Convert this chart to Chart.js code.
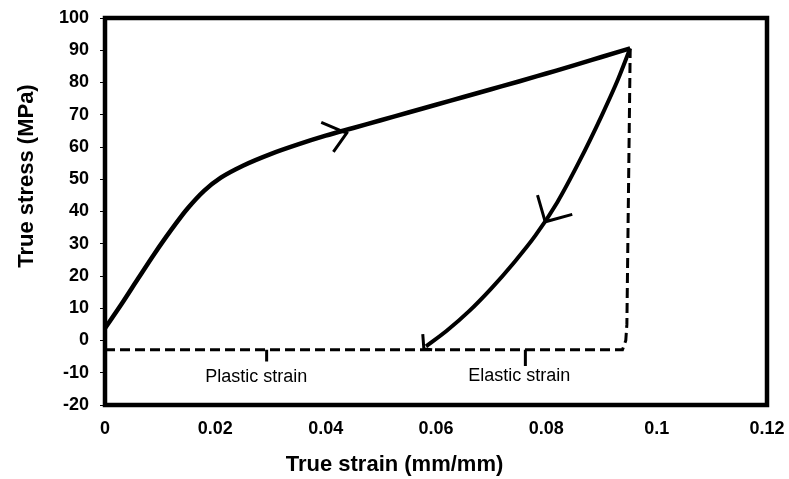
<!DOCTYPE html>
<html>
<head>
<meta charset="utf-8">
<style>html,body{margin:0;padding:0;background:#fff}canvas{display:block}</style>
<script src="https://cdn.jsdelivr.net/npm/chart.js@4.4.0/dist/chart.umd.min.js"></script>
</head>
<body>
<canvas id="c" width="789" height="479"></canvas>
<script>
// ---- data ----
const xTickLabels = ['0', '0.02', '0.04', '0.06', '0.08', '0.1', '0.12'];
const yTickLabels = ['-20', '-10', '0', '10', '20', '30', '40', '50', '60', '70', '80', '90', '100'];

const loadingStrain = [0, 0.003, 0.006, 0.009, 0.012, 0.015, 0.018, 0.021, 0.025, 0.03, 0.035, 0.04, 0.045, 0.05, 0.055, 0.06, 0.065, 0.07, 0.075, 0.08, 0.085, 0.09, 0.0952];
const loadingStress = [3.8, 11.3, 19.2, 27, 34.3, 41, 46.5, 50.5, 54.2, 57.8, 60.8, 63.5, 65.9, 68.3, 70.7, 73.1, 75.5, 77.9, 80.3, 82.8, 85.3, 87.9, 90.6];

const unloadStrain = [0.0582, 0.062, 0.066, 0.070, 0.074, 0.078, 0.082, 0.086, 0.090, 0.093, 0.0952];
const unloadStress = [-1.8, 3.1, 9.1, 16.1, 23.9, 32.5, 42.9, 55.6, 69.6, 81, 90.6];

const dashStrain = [0, 0.0938, 0.0944, 0.0946, 0.0952];
const dashStress = [-2.9, -2.9, 0, 5, 90];

const arrow1Strain = [0.0392, 0.0438, 0.0414];
const arrow1Stress = [67.6, 64.3, 58.5];
const arrow2Strain = [0.0784, 0.0798, 0.0847];
const arrow2Stress = [45.1, 36.8, 39.1];
const arrowEndStrain = [0.0576, 0.0578, 0.0593];
const arrowEndStress = [2.0, -2.6, -2.9];

const plasticPtrStrain = [0.0293, 0.0293];
const plasticPtrStress = [-2.9, -6.5];
const elasticPtrStrain = [0.0762, 0.0762];
const elasticPtrStress = [-2.9, -7.9];

const annotationTexts = ['Plastic strain', 'Elastic strain'];
const annotationStrain = [0.0274, 0.0751];
const annotationStress = [-11.3, -10.9];

const xTitle = 'True strain (mm/mm)';
const yTitle = 'True stress (MPa)';

// ---- build ----
const pts = (xs, ys) => xs.map((x, i) => ({x: x, y: ys[i]}));
function ds(xs, ys, width, extra) {
  return Object.assign({
    data: pts(xs, ys), showLine: true, borderColor: '#000', backgroundColor: '#000',
    borderWidth: width, pointRadius: 0, fill: false, tension: 0, borderCapStyle: 'butt'
  }, extra || {});
}

const FONT = '"Liberation Sans", Arial, sans-serif';

const framePlugin = {
  id: 'frame',
  afterDatasetsDraw(chart) {
    const a = chart.chartArea, ctx = chart.ctx;
    ctx.save();
    ctx.strokeStyle = '#000';
    ctx.lineWidth = 4.5;
    ctx.strokeRect(a.left, a.top, a.right - a.left, a.bottom - a.top);
    ctx.restore();
  },
  afterDraw(chart) {
    const ctx = chart.ctx, xs = chart.scales.x, ys = chart.scales.y;
    ctx.save();
    ctx.fillStyle = '#000';
    ctx.textAlign = 'center';
    ctx.textBaseline = 'middle';
    ctx.font = '18px ' + FONT;
    annotationTexts.forEach((t, i) => {
      ctx.fillText(t, xs.getPixelForValue(annotationStrain[i]), ys.getPixelForValue(annotationStress[i]));
    });
    ctx.font = 'bold 22px ' + FONT;
    ctx.fillText(xTitle, chart.width / 2, 465);
    ctx.translate(27, 176);
    ctx.rotate(-Math.PI / 2);
    ctx.fillText(yTitle, 0, 0);
    ctx.restore();
  }
};

new Chart(document.getElementById('c'), {
  type: 'scatter',
  data: {
    datasets: [
      ds(dashStrain, dashStress, 3, {borderDash: [10, 5]}),
      ds(loadingStrain, loadingStress, 4.5, {cubicInterpolationMode: 'monotone'}),
      ds(unloadStrain, unloadStress, 4, {cubicInterpolationMode: 'monotone'}),
      ds(arrow1Strain, arrow1Stress, 3),
      ds(arrow2Strain, arrow2Stress, 3),
      ds(arrowEndStrain, arrowEndStress, 3),
      ds(plasticPtrStrain, plasticPtrStress, 3),
      ds(elasticPtrStrain, elasticPtrStress, 3)
    ]
  },
  options: {
    responsive: false,
    animation: false,
    devicePixelRatio: 1,
    layout: {padding: {left: 0, right: 22, top: 18, bottom: 0}},
    plugins: {legend: {display: false}, tooltip: {enabled: false}},
    scales: {
      x: {
        type: 'linear', min: 0, max: 0.12,
        afterFit: s => { s.height = 74; s.paddingLeft = 0; s.paddingRight = 0; },
        afterBuildTicks: s => { s.ticks = xTickLabels.map((l, i) => ({value: i * 0.02})); },
        border: {display: false},
        grid: {display: true, drawOnChartArea: false, drawTicks: false},
        ticks: {
          color: '#000', padding: 13, maxRotation: 0, autoSkip: false,
          font: {family: FONT, size: 18, weight: 'bold'},
          callback: (v, i) => xTickLabels[i]
        }
      },
      y: {
        type: 'linear', min: -20, max: 100,
        afterFit: s => { s.width = 105; s.paddingTop = 0; s.paddingBottom = 0; },
        afterBuildTicks: s => { s.ticks = yTickLabels.map((l, i) => ({value: -20 + i * 10})); },
        border: {display: false},
        grid: {display: true, drawOnChartArea: false, drawTicks: true, tickLength: 5, color: '#000', lineWidth: 1},
        ticks: {
          color: '#000', padding: 11, autoSkip: false,
          font: {family: FONT, size: 18, weight: 'bold'},
          callback: (v, i) => yTickLabels[i]
        }
      }
    }
  },
  plugins: [framePlugin]
});
</script>
</body>
</html>
